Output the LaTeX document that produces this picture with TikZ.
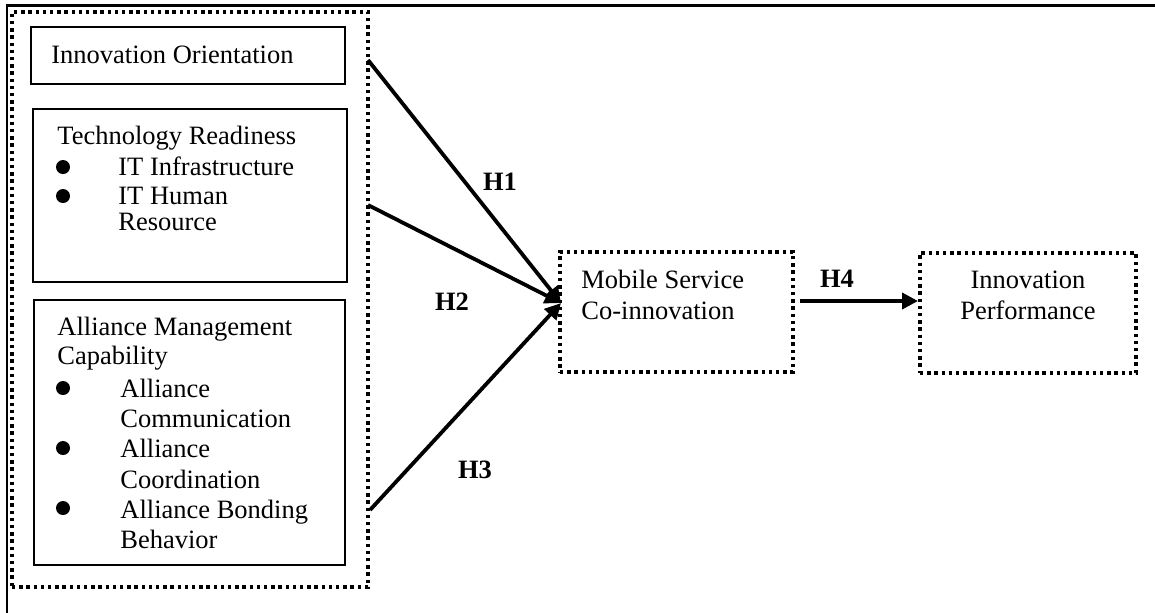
\documentclass[tikz,border=0pt]{standalone}
\usepackage{fontspec}
\setmainfont{Liberation Serif}
\usetikzlibrary{arrows.meta}
\begin{document}
\begin{tikzpicture}[x=0.5pt,y=-0.5pt,>={Triangle[length=8pt,width=8pt]},
  font=\fontsize{13.25}{15}\selectfont, line join=miter,
  solidbox/.style={draw,line width=0.8pt,inner sep=0pt,outer sep=0pt},
  dotbox/.style={draw,line width=1.7pt,dash pattern=on 1.7pt off 1.9pt,inner sep=0pt,outer sep=0pt},
  txt/.style={anchor=base west,inner sep=0pt},
  ctxt/.style={anchor=base,inner sep=0pt},
  hyp/.style={anchor=base,inner sep=0pt,font=\fontsize{13.25}{15}\selectfont\bfseries},
  arr/.style={->,line width=1.9pt}]
  \useasboundingbox (0,0) rectangle (1155,612);
  % page frame
  \draw[line width=1.2pt] (7,620) -- (7,5.5) -- (1160,5.5);
  % antecedents
  \node[dotbox,minimum width=178pt,minimum height=287.5pt] (grp) at (190,299.5) {};
  \node[solidbox,minimum width=157pt,minimum height=28.5pt] (io) at (188,55.5) {};
  \node[solidbox,minimum width=157pt,minimum height=86.5pt] (tr) at (190,195.5) {};
  \node[solidbox,minimum width=155.5pt,minimum height=132.5pt] (amc) at (189.5,432.5) {};
  \node[txt] (io-t) at (51,63) {Innovation Orientation};
  \node[txt] (tr-t) at (57,144) {Technology Readiness};
  \foreach \t/\y in {IT Infrastructure/175,IT Human/204,Resource/230}
    \node[txt] (tr-\y) at (118,\y) {\t};
  \foreach \y in {167,196}
    \fill (63,\y) circle (7);
  \foreach \t/\y in {Alliance Management/335,Capability/364}
    \node[txt] (amc-\y) at (57,\y) {\t};
  \foreach \t/\y in {Alliance/397,Communication/427,Alliance/457,Coordination/488,Alliance Bonding/518,Behavior/548}
    \node[txt] (amc-\y) at (120,\y) {\t};
  \foreach \y in {388,448,508}
    \fill (63,\y) circle (7);
  % mediator and outcome
  \node[dotbox,minimum width=116.5pt,minimum height=60pt] (mob) at (676.5,312) {};
  \node[txt] (mob-1) at (581,288) {Mobile Service};
  \node[txt] (mob-2) at (581,319) {Co-innovation};
  \node[dotbox,minimum width=108pt,minimum height=60pt] (perf) at (1028,313) {};
  \node[ctxt] (perf-1) at (1028,288) {Innovation};
  \node[ctxt] (perf-2) at (1028,319) {Performance};
  % hypotheses
  \coordinate (s1) at (368,60);
  \coordinate (s2) at (368,205);
  \coordinate (s3) at (370,510);
  \coordinate (tip) at (561,303);
  \coordinate (h4s) at (800,301);
  \coordinate (h4e) at (918,301);
  \draw[arr] (s1) -- (tip);
  \draw[arr] (s2) -- (tip);
  \draw[arr] (s3) -- (tip);
  \draw[arr] (h4s) -- (h4e);
  \node[hyp] (h1) at (500,190) {H1};
  \node[hyp] (h2) at (452,310) {H2};
  \node[hyp] (h3) at (475,478) {H3};
  \node[hyp] (h4) at (837,287) {H4};
\end{tikzpicture}
\end{document}
